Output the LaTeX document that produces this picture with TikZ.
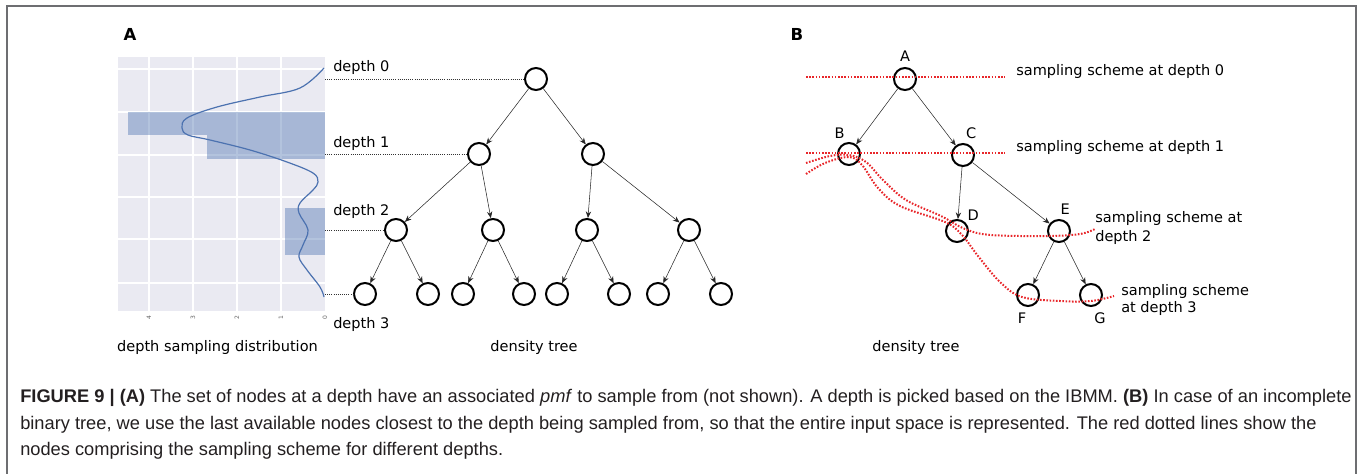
\documentclass[tikz,border=0pt]{standalone}
\usepackage{fontspec}
\setmainfont{Liberation Sans}
\newfontfamily\dejavu{DejaVu Sans}
\usetikzlibrary{arrows.meta}
\usetikzlibrary{positioning}
\definecolor{plotbg}{HTML}{EAEAF2}
\definecolor{kdeblue}{HTML}{4C72B0}
\definecolor{schemered}{HTML}{E8262A}
\definecolor{captext}{HTML}{231F20}
\definecolor{framegray}{HTML}{6D6E71}
\tikzset{
    treenode/.style={draw, circle, line width=1.5pt, minimum size=16.5pt, inner sep=0pt},
    treeedge/.style={-{Stealth[length=5pt,width=4pt]}, line width=0.4pt, black!85},
    depthline/.style={densely dotted, line width=0.6pt, black!80},
    scheme/.style={schemered, line width=1.5pt, dash pattern=on 1.2pt off 1.2pt},
    gridline/.style={white, line width=0.8pt},
    bar/.style={fill=kdeblue, fill opacity=0.42},
    kde/.style={kdeblue, line width=0.9pt},
    lbl/.style={font=\dejavu\fontsize{10.9pt}{13pt}\selectfont, inner sep=0pt},
    tick/.style={font=\dejavu\fontsize{4.5pt}{5pt}\selectfont, black!60, inner sep=0pt, rotate=90},
    panel/.style={font=\dejavu\bfseries\fontsize{12.4pt}{14pt}\selectfont, inner sep=0pt},
    caption/.style={font=\fontsize{13.7pt}{16pt}\selectfont, captext, inner sep=0pt, anchor=base west}
}
\begin{document}
\begin{tikzpicture}[x=0.75pt, y=-0.75pt]
    \useasboundingbox (0,0) rectangle (1360,474);
    \draw[framegray, line width=1.1pt] (7,480) -- (7,6) -- (1356,6) -- (1356,480);
    % panel A: depth sampling distribution
    \node[panel] (pA) at (130,34) {A};
    \fill[plotbg] (118,57) rectangle (325,311);
    \foreach \x in {149,193,237,281}
        \draw[gridline] (\x,57) -- (\x,311);
    \foreach \y in {69,112,155,197,239,283}
        \draw[gridline] (118,\y) -- (325,\y);
    \fill[bar] (128,112) rectangle (325,135);
    \fill[bar] (207,135) rectangle (325,159);
    \fill[bar] (285,208) rectangle (325,255);
    \draw[kde] plot[smooth, tension=0.6] coordinates {(324,68) (300,88) (260,97) (217,107) (187,118) (182,128) (188,135) (210,140) (250,150) (287,162) (313,173) (318,182) (313,190) (300,203) (299,213) (308,230) (303,245) (299,257) (307,270) (320,287) (324,297)};
    \foreach \v/\x in {4/149,3/193,2/237,1/281,0/325}
        \node[tick] at (\x,318) {\v};
    \node[lbl, anchor=base] (dist) at (217.5,351) {depth sampling distribution};
    % panel A: density tree
    \node[treenode] (r) at (536,79) {};
    \node[treenode] (n1a) at (479,154) {};
    \node[treenode] (n1b) at (593,154) {};
    \node[treenode] (n2a) at (396,230) {};
    \node[treenode] (n2b) at (493,230) {};
    \node[treenode] (n2c) at (587,230) {};
    \node[treenode] (n2d) at (689,230) {};
    \node[treenode] (n3a) at (365,294) {};
    \node[treenode] (n3b) at (428,294) {};
    \node[treenode] (n3c) at (463,294) {};
    \node[treenode] (n3d) at (524,294) {};
    \node[treenode] (n3e) at (557,294) {};
    \node[treenode] (n3f) at (619,294) {};
    \node[treenode] (n3g) at (658,294) {};
    \node[treenode] (n3h) at (721,294) {};
    \draw[treeedge] (r) -- (n1a);
    \draw[treeedge] (r) -- (n1b);
    \draw[treeedge] (n1a) -- (n2a);
    \draw[treeedge] (n1a) -- (n2b);
    \draw[treeedge] (n1b) -- (n2c);
    \draw[treeedge] (n1b) -- (n2d);
    \draw[treeedge] (n2a) -- (n3a);
    \draw[treeedge] (n2a) -- (n3b);
    \draw[treeedge] (n2b) -- (n3c);
    \draw[treeedge] (n2b) -- (n3d);
    \draw[treeedge] (n2c) -- (n3e);
    \draw[treeedge] (n2c) -- (n3f);
    \draw[treeedge] (n2d) -- (n3g);
    \draw[treeedge] (n2d) -- (n3h);
    \coordinate (e0) at (325,79);
    \coordinate (e1) at (325,154);
    \coordinate (e2) at (325,230);
    \coordinate (e3) at (325,294);
    \draw[depthline] (e0) -- (r);
    \draw[depthline] (e1) -- (n1a);
    \draw[depthline] (e2) -- (n2a);
    \draw[depthline] (e3) -- (n3a);
    \node[lbl, anchor=base west] (d0) at (333,72) {depth 0};
    \node[lbl, anchor=base west] (d1) at (333,148) {depth 1};
    \node[lbl, anchor=base west] (d2) at (333,215) {depth 2};
    \node[lbl, anchor=base west] (d3) at (333,328) {depth 3};
    \node[lbl, anchor=base] (treeA) at (534,351) {density tree};
    % panel B: incomplete tree
    \node[panel] (pB) at (797,34) {B};
    \node[treenode, label={[lbl, label distance=4pt]90:A}] (A) at (905,79) {};
    \node[treenode, label={[lbl, label distance=3pt]105:B}] (B) at (849,154) {};
    \node[treenode, label={[lbl, label distance=3pt]80:C}] (C) at (963,155) {};
    \node[treenode, label={[lbl, label distance=2pt]45:D}] (D) at (957,231) {};
    \node[treenode, label={[lbl, label distance=3pt]85:E}] (E) at (1059,231) {};
    \node[treenode, label={[lbl, label distance=4pt]-95:F}] (F) at (1028,295) {};
    \node[treenode, label={[lbl, label distance=4pt]-80:G}] (G) at (1091,295) {};
    \draw[treeedge] (A) -- (B);
    \draw[treeedge] (A) -- (C);
    \draw[treeedge] (C) -- (D);
    \draw[treeedge] (C) -- (E);
    \draw[treeedge] (E) -- (F);
    \draw[treeedge] (E) -- (G);
    \draw[scheme] (806,77) -- (1005,77);
    \draw[scheme] (806,153) -- (1005,153);
    \draw[scheme] plot[smooth, tension=0.6] coordinates {(806,163) (830,156) (849,155) (866,162) (883,180) (906,200) (941,216) (965,229) (991,235) (1048,236) (1080,234) (1095,229)};
    \draw[scheme] plot[smooth, tension=0.6] coordinates {(806,174) (825,163) (849,157) (862,165) (878,188) (900,206) (945,222) (962,235) (978,256) (1000,282) (1022,297) (1060,301) (1091,301) (1114,296)};
    \node[lbl, anchor=base west] (s0) at (1016,76) {sampling scheme at depth 0};
    \node[lbl, anchor=base west] (s1) at (1016,152) {sampling scheme at depth 1};
    \node[lbl, anchor=base west] (s2) at (1095,223) {sampling scheme at};
    \node[lbl, anchor=base west] (s2b) at (1095,241) {depth 2};
    \node[lbl, anchor=base west] (s3) at (1121,295) {sampling scheme};
    \node[lbl, anchor=base west] (s3b) at (1121,312) {at depth 3};
    \node[lbl, anchor=base] (treeB) at (916,351) {density tree};
    % caption
    \node[caption] (cap1) at (20,402) {\textbf{FIGURE 9 | (A)} The set of nodes at a depth have an associated \textit{pmf} to sample from (not shown). A depth is picked based on the IBMM. \textbf{(B)} In case of an incomplete};
    \node[caption] (cap2) at (20,429) {binary tree, we use the last available nodes closest to the depth being sampled from, so that the entire input space is represented. The red dotted lines show the};
    \node[caption] (cap3) at (20,455) {nodes comprising the sampling scheme for different depths.};
\end{tikzpicture}
\end{document}
